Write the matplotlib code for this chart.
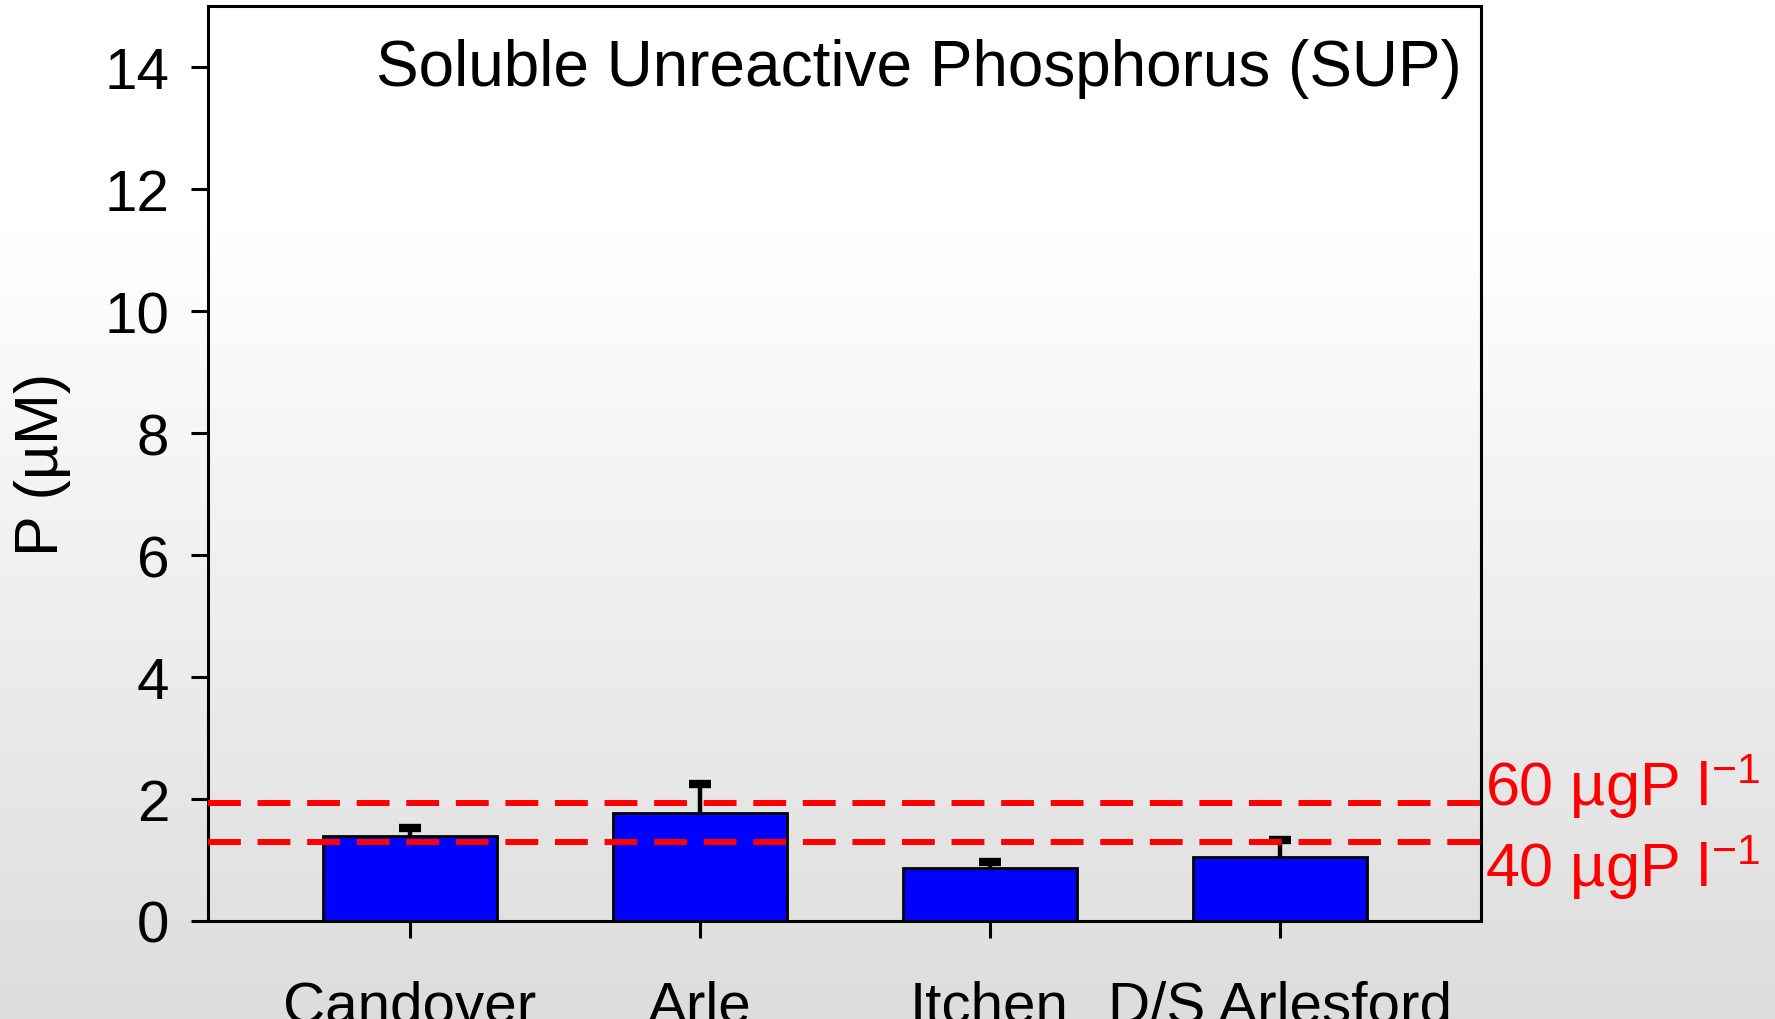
import numpy as np
from matplotlib import pyplot as plt

plt.rcParams["font.family"] = ["Liberation Sans", "DejaVu Sans"]
plt.rcParams["mathtext.fontset"] = "custom"
plt.rcParams["mathtext.rm"] = "Liberation Sans"
plt.rcParams["mathtext.it"] = "Liberation Sans"

SITES = ["Candover", "Arle", "Itchen", "D/S Arlesford"]
SUP_MEAN = [1.40, 1.77, 0.87, 1.05]
SUP_ERR = [0.13, 0.47, 0.10, 0.27]

# thresholds, µgP/l converted to µM
THRESHOLD_UG = [60, 40]
THRESHOLD_UM = [u / 30.97 for u in THRESHOLD_UG]

fig = plt.figure(figsize=(17.75, 10.2), dpi=100)

# grey gradient background
bg = fig.add_axes([0, 0, 1, 1], zorder=-10)
grad = np.linspace(1.0, 0.0, 256)
grad = np.clip(grad * 1.25, 0, 1)
shade = 0.862 + (1.0 - 0.862) * grad
bg.imshow(shade[:, None], aspect="auto", cmap="gray", vmin=0, vmax=1,
          extent=(0, 1, 0, 1))
bg.axis("off")

ax = fig.add_axes([0.1172, 0.0961, 0.7172, 0.8970])
ax.patch.set_alpha(0)

x = np.arange(len(SITES))
ax.bar(x, SUP_MEAN, width=0.6, color="#0000ff", edgecolor="black",
       linewidth=2, zorder=2)
_, caps, _ = ax.errorbar(x, SUP_MEAN, yerr=[np.zeros(len(SUP_ERR)), SUP_ERR],
                         fmt="none", ecolor="black", elinewidth=3.2,
                         capsize=8, capthick=6, zorder=3)
caps[0].set_visible(False)  # only the upper cap is shown

# offsets (in µM) of each label baseline from its line
label_offsets = [-0.04, -0.72]
for level, ug, off in zip(THRESHOLD_UM, THRESHOLD_UG, label_offsets):
    ax.axhline(level, color="#ff0000", linewidth=4.3, dashes=(5.5, 2.8),
               zorder=4)
    ax.text(1.003, level + off, f"{ug} µgP l$^{{-1}}$",
            transform=ax.get_yaxis_transform(), color="#ff0000",
            fontsize=44, ha="left", va="baseline", clip_on=False)

ax.set_xlim(-0.695, len(SITES) - 1 + 0.695)
ax.set_ylim(0, 15)
ax.set_yticks(range(0, 15, 2))
ax.set_xticks(x)
ax.set_xticklabels(SITES)
ax.tick_params(axis="both", direction="out", length=12, width=2.2,
               labelsize=42, colors="black")
ax.tick_params(axis="x", pad=30)
ax.tick_params(axis="y", pad=16)
for spine in ax.spines.values():
    spine.set_linewidth(2.2)

ax.set_ylabel("P (µM)", fontsize=44, labelpad=24)
ax.text(0.985, 0.965, "Soluble Unreactive Phosphorus (SUP)",
        transform=ax.transAxes, ha="right", va="top", fontsize=46)

fig.savefig("out.png", dpi=100)
